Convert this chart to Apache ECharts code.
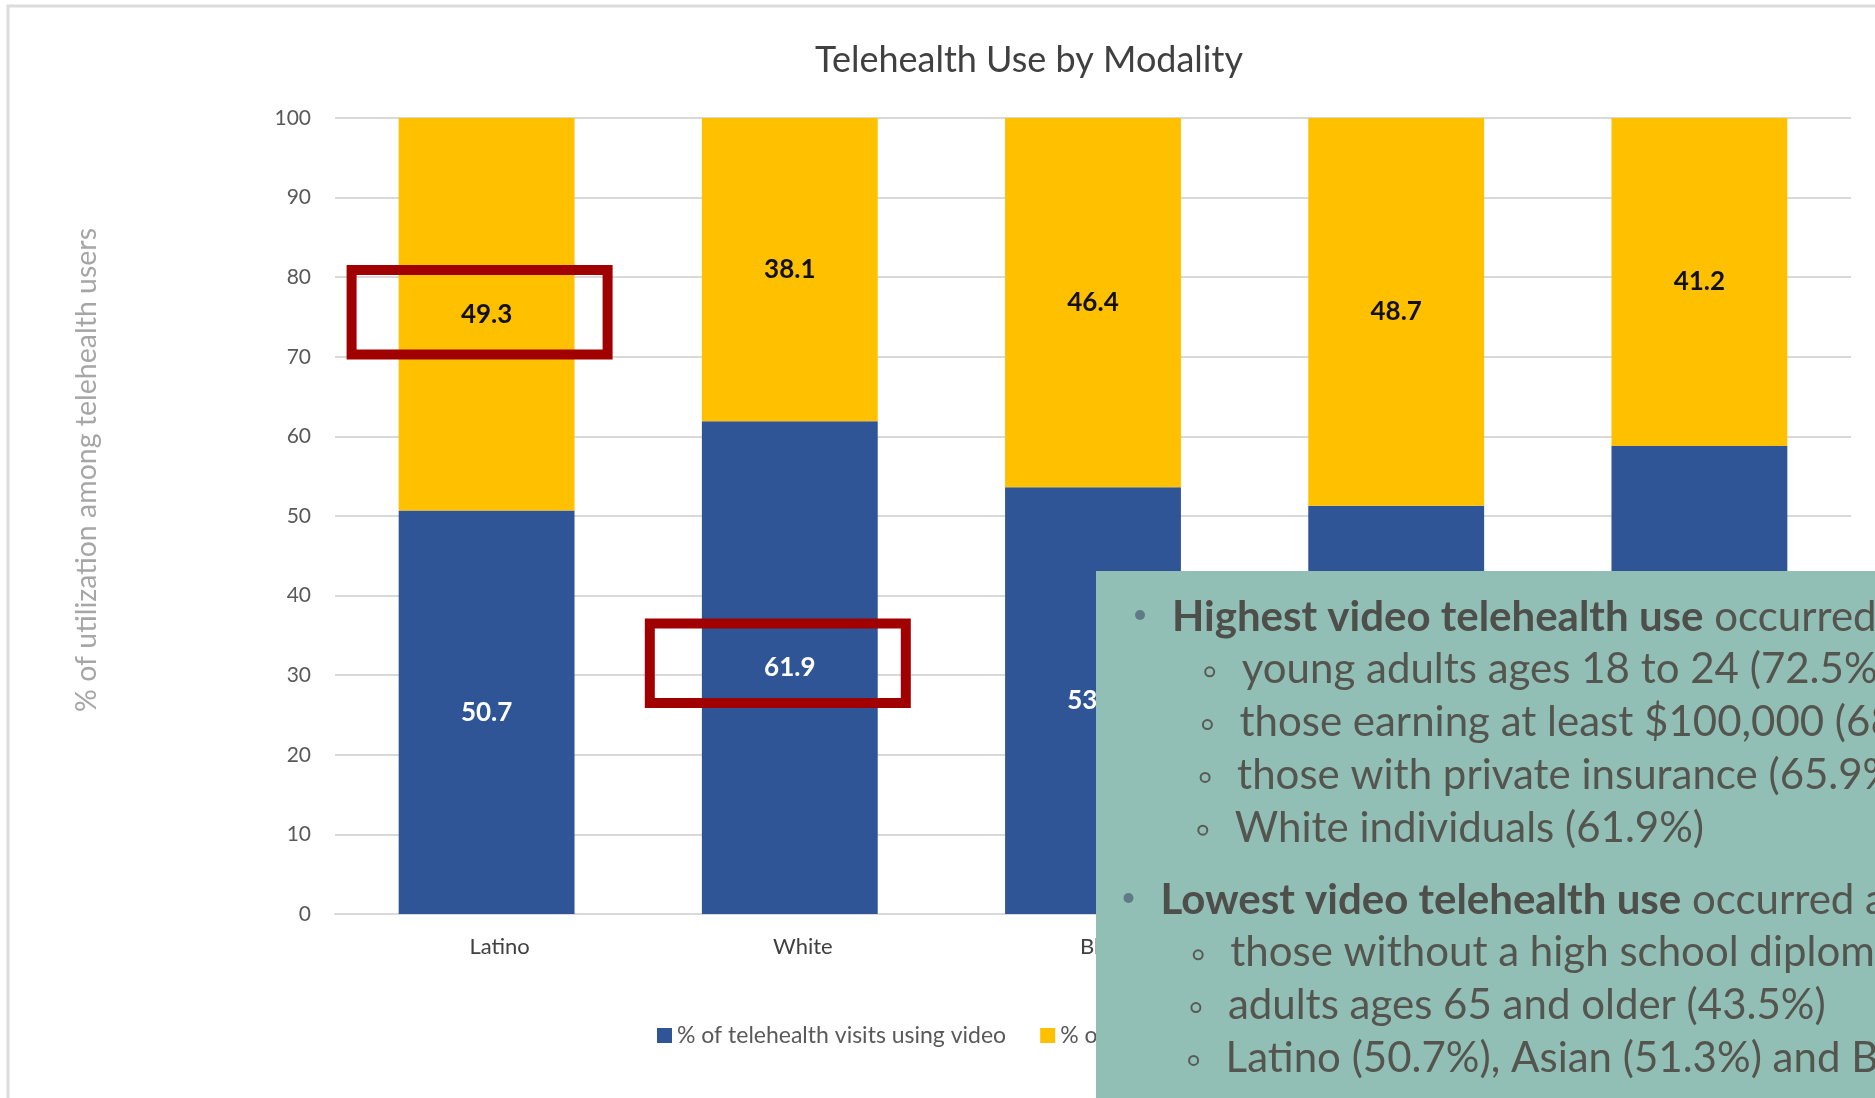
<!DOCTYPE html>
<html>
<head>
<meta charset="utf-8">
<title>Telehealth Use by Modality</title>
<script src="https://cdn.jsdelivr.net/npm/echarts@6/dist/echarts.min.js"></script>
<style>
  html, body { margin: 0; padding: 0; background: #fff; }
  #mychart { width: 1875px; height: 1098px; }
</style>
</head>
<body>
<div id="mychart"></div>
<script>
// 数据
const categories = ['Latino', 'White', 'Black', 'Asian', 'Other'];
const videoPct = [50.7, 61.9, 53.6, 51.3, 58.8];
const audioPct = [49.3, 38.1, 46.4, 48.7, 41.2];
const seriesNames = ['% of telehealth visits using video', '% of telehealth visits using audio only'];
const yTicks = { min: 0, max: 100, interval: 10 };

// red boxes drawn around two labels (category, value range)
const boxCats = ['Latino', 'White'];
const boxLow = [70.3, 26.5];
const boxHigh = [80.9, 36.5];

// slide text over the chart
const noteBold = ['Highest video telehealth use', '', '', '', '', 'Lowest video telehealth use', '', '', ''];
const noteRest = [
  ' occurred among:',
  'young adults ages 18 to 24 (72.5%)',
  'those earning at least $100,000 (68.1%)',
  'those with private insurance (65.9%)',
  'White individuals (61.9%)',
  ' occurred among:',
  'those without a high school diploma',
  'adults ages 65 and older (43.5%)',
  'Latino (50.7%), Asian (51.3%) and Black (53.6%)'
];
const noteLevel = [1, 2, 2, 2, 2, 1, 2, 2, 2];

const FONT = "Lato, 'Open Sans', sans-serif";

const option = {
  animation: false,
  backgroundColor: '#fff',
  textStyle: { fontFamily: FONT },
  title: {
    text: 'Telehealth Use by Modality',
    left: 1024,
    top: 37,
    textAlign: 'center',
    textStyle: { fontFamily: FONT, fontSize: 36, fontWeight: 'normal', color: '#404040' }
  },
  grid: { left: 335, right: 24, top: 118, bottom: 184 },
  legend: {
    left: 652,
    top: 1019,
    icon: 'rect',
    itemWidth: 15,
    itemHeight: 15,
    itemGap: 34,
    textStyle: { fontFamily: FONT, fontSize: 23, color: '#595959' },
    data: seriesNames
  },
  xAxis: {
    type: 'category',
    data: categories,
    axisLine: { show: true, lineStyle: { color: '#d9d9d9', width: 2 } },
    axisTick: { show: false },
    axisLabel: { margin: 22, fontFamily: FONT, fontSize: 22, color: '#404040', padding: [0, 0, 0, 26] }
  },
  yAxis: {
    type: 'value',
    min: yTicks.min,
    max: yTicks.max,
    interval: yTicks.interval,
    name: '% of utilization among telehealth users',
    nameLocation: 'middle',
    nameGap: 234,
    nameTextStyle: { fontFamily: FONT, fontSize: 28.5, color: '#a6a6a6', padding: [0, 0, 0, 92] },
    axisLine: { show: false },
    axisTick: { show: false },
    axisLabel: { margin: 24, fontFamily: FONT, fontSize: 21, color: '#595959' },
    splitLine: { lineStyle: { color: '#d9d9d9', width: 2 } }
  },
  series: [
    {
      name: seriesNames[0],
      type: 'bar',
      stack: 'total',
      barWidth: '58%',
      itemStyle: { color: '#2f5597' },
      label: {
        show: true,
        position: 'inside',
        fontFamily: FONT,
        fontSize: 26,
        fontWeight: 'bold',
        color: '#fff',
        formatter: p => p.value.toFixed(1)
      },
      data: videoPct
    },
    {
      name: seriesNames[1],
      type: 'bar',
      stack: 'total',
      barWidth: '58%',
      itemStyle: { color: '#ffc000' },
      label: {
        show: true,
        position: 'inside',
        fontFamily: FONT,
        fontSize: 26,
        fontWeight: 'bold',
        color: '#111',
        formatter: p => p.value.toFixed(1)
      },
      data: audioPct
    }
  ]
};

const myChart = echarts.init(document.getElementById('mychart'), null, { renderer: 'canvas' });
myChart.setOption(option);

// 注释：红框 + 文本框
const graphics = [];
// slide frame
graphics.push({
  type: 'rect', z: 50,
  shape: { x: 8, y: 6, width: 2000, height: 2000 },
  style: { fill: 'none', stroke: '#dcdcdc', lineWidth: 3 }
});
const boxDx = [-135, -140];
boxCats.forEach((c, i) => {
  const top = myChart.convertToPixel({ gridIndex: 0 }, [c, boxHigh[i]]);
  const bot = myChart.convertToPixel({ gridIndex: 0 }, [c, boxLow[i]]);
  graphics.push({
    type: 'rect', z: 60,
    shape: { x: top[0] + boxDx[i], y: top[1], width: 256, height: bot[1] - top[1] },
    style: { fill: 'none', stroke: '#a00000', lineWidth: 10 }
  });
});
graphics.push({
  type: 'rect', z: 100,
  shape: { x: 1096, y: 571, width: 800, height: 540 },
  style: { fill: '#91bfb5' }
});
noteRest.forEach((t, i) => {
  const lvl = noteLevel[i];
  const x = (lvl === 1 ? 1172 : 1244) - i * 2.3;
  const y = 617 + i * 52.8 + (i >= 5 ? 19 : 0);
  if (lvl === 1) {
    graphics.push({
      type: 'circle', z: 101,
      shape: { cx: x - 32, cy: y - 2, r: 5 },
      style: { fill: '#5f7c86' }
    });
  } else {
    graphics.push({
      type: 'circle', z: 101,
      shape: { cx: x - 32, cy: y + 2, r: 4.5 },
      style: { fill: 'none', stroke: '#5a5a55', lineWidth: 2 }
    });
  }
  graphics.push({
    type: 'text', z: 102,
    x: x, y: y,
    style: {
      text: (noteBold[i] ? '{b|' + noteBold[i] + '}' : '') + '{n|' + t + '}',
      verticalAlign: 'middle',
      rich: {
        b: { fontFamily: FONT, fontSize: 42, fontWeight: 'bold', fill: '#4e4e4a' },
        n: { fontFamily: FONT, fontSize: 42, fill: '#55554f' }
      }
    }
  });
});
myChart.setOption({ graphic: graphics });
</script>
</body>
</html>
